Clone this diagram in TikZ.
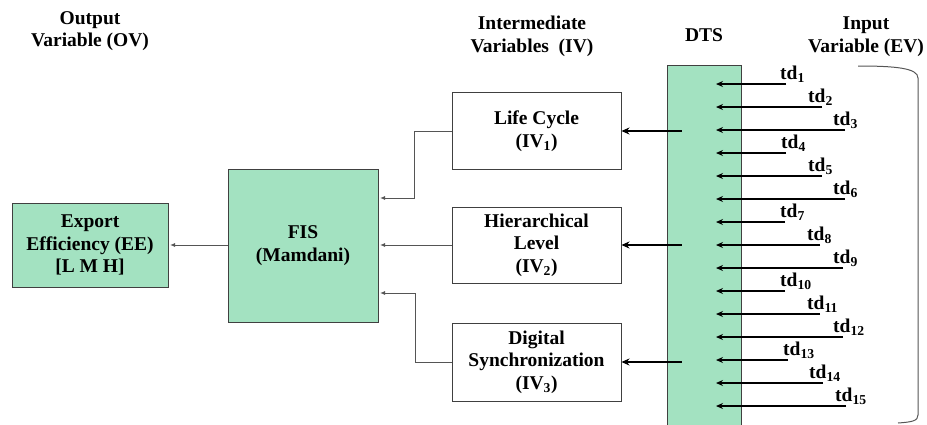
\documentclass[tikz,border=0pt]{standalone}
\usepackage{fontspec}
\setmainfont{Liberation Serif}
\usetikzlibrary{arrows.meta,calc}
\definecolor{boxgreen}{RGB}{163,226,193}
\definecolor{edgegray}{RGB}{64,64,64}
\definecolor{conngray}{RGB}{85,85,85}
\begin{document}
\begin{tikzpicture}[x=1pt,y=-1pt,
  font=\fontsize{19.5}{22.5}\selectfont\bfseries,
  box/.style={draw=edgegray, line width=1pt, align=center, inner sep=2pt},
  greenbox/.style={box, fill=boxgreen},
  conn/.style={draw=conngray, line width=1pt, -{Latex[length=5pt,width=4pt]}, shorten >=1.5pt},
  bigarrow/.style={draw=black, line width=1.8pt, -{Stealth[length=8pt,width=7pt]}},
  inarrow/.style={draw=black, line width=1.7pt, -{Stealth[length=7pt,width=6pt]}},
  title/.style={align=center, inner sep=0pt}]
\useasboundingbox (0,0) rectangle (927,424);

% titles
\node[title] (ovt) at (90,31) {Output\\Variable (OV)};
\node[title] (ivt) at (532,36.5) {Intermediate\\Variables~~(IV)};
\node[title] (dtst) at (704,35) {DTS};
\node[title] (evt) at (866,36.5) {Input\\Variable (EV)};

% boxes
\node[greenbox, minimum width=156pt, minimum height=84pt] (ee) at (90,245) {Export\\Efficiency (EE)\\{[L M H]}};
\node[greenbox, minimum width=150pt, minimum height=153pt] (fis) at (303,245.5) {FIS\\(Mamdani)};
\node[box, minimum width=169pt, minimum height=77pt] (iv1) at (536.5,131) {Life Cycle\\(IV\textsubscript{1})};
\node[box, minimum width=169pt, minimum height=76pt] (iv2) at (536.5,245) {Hierarchical\\Level\\(IV\textsubscript{2})};
\node[box, minimum width=169pt, minimum height=78pt] (iv3) at (536.5,362) {Digital\\Synchronization\\(IV\textsubscript{3})};
\node[greenbox, minimum width=74pt, minimum height=372pt, anchor=north] (dts) at (704,65) {};

% DTS to intermediate variables
\draw[bigarrow] ($(iv1.east -| dts.west)+(15,0)$) -- (iv1.east);
\draw[bigarrow] ($(iv2.east -| dts.west)+(15,0)$) -- (iv2.east);
\draw[bigarrow] ($(iv3.east -| dts.west)+(15,0)$) -- (iv3.east);

% intermediate variables to FIS
\coordinate (f1) at ($(fis.east)+(0,-47.5)$);
\coordinate (f3) at ($(fis.east)+(0,47.5)$);
\draw[conn] (iv1.west) -- ++(-37,0) |- (f1);
\draw[conn] (iv2.west) -- (iv2.west -| fis.east);
\draw[conn] (iv3.west) -- ++(-36,0) |- (f3);
\draw[conn] (fis.west |- ee.east) -- (ee.east);

% inputs
\coordinate (tipx) at (716,0);
\foreach \i/\xe/\lx in {1/786/780, 2/822/808, 3/845/833, 4/786/781, 5/822/808, 6/845/833, 7/785/780, 8/820/807, 9/843/833, 10/785/780, 11/820/807, 12/843/833, 13/788/783, 14/823/809, 15/846/835}
{
  \pgfmathsetmacro\yy{84+23*(\i-1)}
  \coordinate (s\i) at (\xe,\yy);
  \draw[inarrow] (s\i) -- (s\i -| tipx);
  \node[anchor=base west, inner sep=0pt] (l\i) at (\lx,\yy-5) {td\textsubscript{\i}};
}

% bracket
\draw[draw=conngray, line width=1pt] (858,66) .. controls (895,66) and (918,68) .. (918,78) -- (918,415) .. controls (918,421) and (912,422) .. (898,423);
\end{tikzpicture}
\end{document}
